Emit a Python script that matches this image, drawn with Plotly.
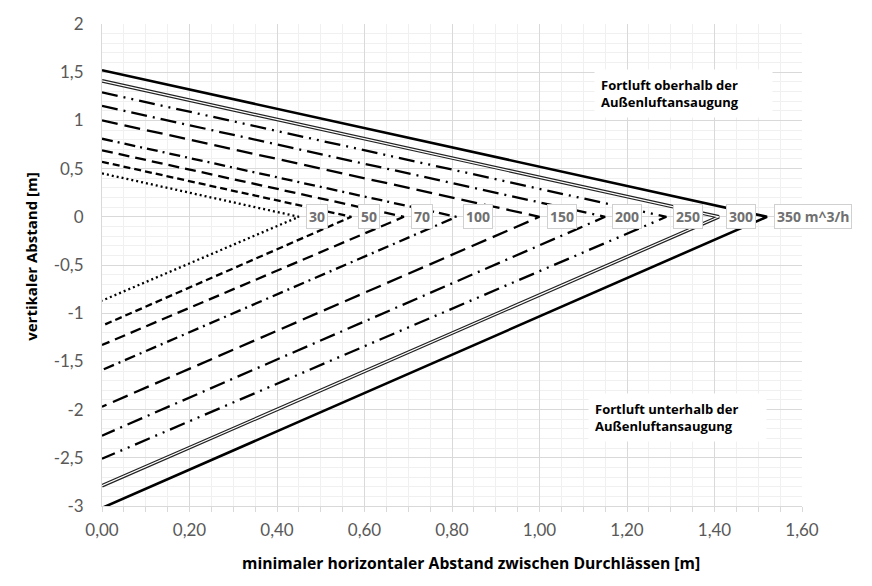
import plotly.graph_objects as go

# Volumenstrom der Durchlässe [m^3/h]
volumes = [30, 50, 70, 100, 150, 200, 250, 300, 350]
labels = ["30", "50", "70", "100", "150", "200", "250", "300", "350 m^3/h"]

# Fortluft oberhalb: Startwert bei x=0 (vertikaler Abstand)
y_top = [0.45, 0.57, 0.69, 0.81, 1.00, 1.15, 1.29, 1.41, 1.52]
# Fortluft unterhalb: Startwert bei x=0
y_bottom = [-0.87, -1.13, -1.33, -1.59, -1.97, -2.27, -2.51, -2.79, -3.02]
# minimaler horizontaler Abstand bei vertikalem Abstand 0
x_apex = [0.45, 0.57, 0.69, 0.81, 1.00, 1.15, 1.29, 1.41, 1.52]

y_ticks = [2, 1.5, 1, 0.5, 0, -0.5, -1, -1.5, -2, -2.5, -3]
y_ticktext = ["2", "1,5", "1", "0,5", "0", "-0,5", "-1", "-1,5", "-2", "-2,5", "-3"]

dashes = [
    "2px,3px",
    "7px,4px",
    "11px,6px",
    "11px,5px,2px,5px",
    "16px,7px",
    "16px,6px,2px,6px",
    "16px,6px,2px,6px,2px,6px",
    None,   # Doppellinie
    "solid",
]

TICKFONT = "Lato"
BOLDFONT = "Open Sans"

fig = go.Figure()

for i, v in enumerate(volumes):
    xs = [0, x_apex[i], 0]
    ys = [y_top[i], 0, y_bottom[i]]
    if dashes[i] is None:
        # Doppellinie wie in Excel
        fig.add_trace(go.Scatter(x=xs, y=ys, mode="lines", name=str(v),
                                 line=dict(color="#222222", width=3.6)))
        fig.add_trace(go.Scatter(x=xs, y=ys, mode="lines", showlegend=False,
                                 line=dict(color="white", width=1.2)))
    else:
        w = 2.6 if dashes[i] == "solid" else 2.3
        fig.add_trace(go.Scatter(x=xs, y=ys, mode="lines", name=str(v),
                                 line=dict(color="black", width=w, dash=dashes[i])))

    fig.add_annotation(x=x_apex[i], y=0, text="<b>%s</b>" % labels[i],
                       xanchor="left", yanchor="middle", xshift=7, showarrow=False,
                       font=dict(family=BOLDFONT, size=14, color="#707070"),
                       bgcolor="white", bordercolor="#d0d0d0", borderwidth=1, borderpad=2)

fig.add_annotation(x=1.125, y=1.277, text="<b>Fortluft oberhalb der<br>Außenluftansaugung</b>",
                   xanchor="left", yanchor="middle", align="left", showarrow=False,
                   font=dict(family=BOLDFONT, size=13, color="black"),
                   bgcolor="white", borderpad=6, width=165)
fig.add_annotation(x=1.11, y=-2.077, text="<b>Fortluft unterhalb der<br>Außenluftansaugung</b>",
                   xanchor="left", yanchor="middle", align="left", showarrow=False,
                   font=dict(family=BOLDFONT, size=13, color="black"),
                   bgcolor="white", borderpad=6, width=165)

# Achsentitel
fig.add_annotation(xref="paper", yref="paper", x=0, y=0.517, xshift=-71,
                   text="<b>vertikaler Abstand [m]</b>", textangle=-90,
                   xanchor="center", yanchor="middle", showarrow=False,
                   font=dict(family=BOLDFONT, size=15, color="black"))
fig.add_annotation(xref="paper", yref="paper", x=0.527, y=0, yshift=-57,
                   text="<b>minimaler horizontaler Abstand zwischen Durchlässen [m]</b>",
                   xanchor="center", yanchor="middle", showarrow=False,
                   font=dict(family=BOLDFONT, size=15.7, color="black"))

fig.update_layout(
    width=872, height=586,
    margin=dict(l=94, r=78, t=16, b=88),
    plot_bgcolor="white", paper_bgcolor="white",
    separators=",.",
    showlegend=False,
    font=dict(family=TICKFONT, size=16, color="#595959"),
)

fig.update_xaxes(
    range=[0, 1.6], dtick=0.2, tickformat=".2f", automargin=False,
    showgrid=True, gridcolor="#d9d9d9", gridwidth=1,
    zeroline=False, showline=True, linecolor="#d9d9d9",
    ticks="outside", ticklen=5, tickcolor="#d9d9d9", ticklabelstandoff=4,
    minor=dict(dtick=0.05, showgrid=True, gridcolor="#f0f0f0",
               ticks="outside", ticklen=5, tickcolor="#d9d9d9"),
    tickfont=dict(family=TICKFONT, size=17, color="#595959"),
)
fig.update_yaxes(
    range=[-3, 2], tickvals=y_ticks, ticktext=y_ticktext, automargin=False,
    showgrid=True, gridcolor="#d9d9d9", gridwidth=1,
    zeroline=False, showline=True, linecolor="#d9d9d9",
    ticks="", ticklabelstandoff=14,
    minor=dict(dtick=0.1, showgrid=True, gridcolor="#f0f0f0"),
    tickfont=dict(family=TICKFONT, size=17, color="#595959"),
)

fig.write_html("out.html")
